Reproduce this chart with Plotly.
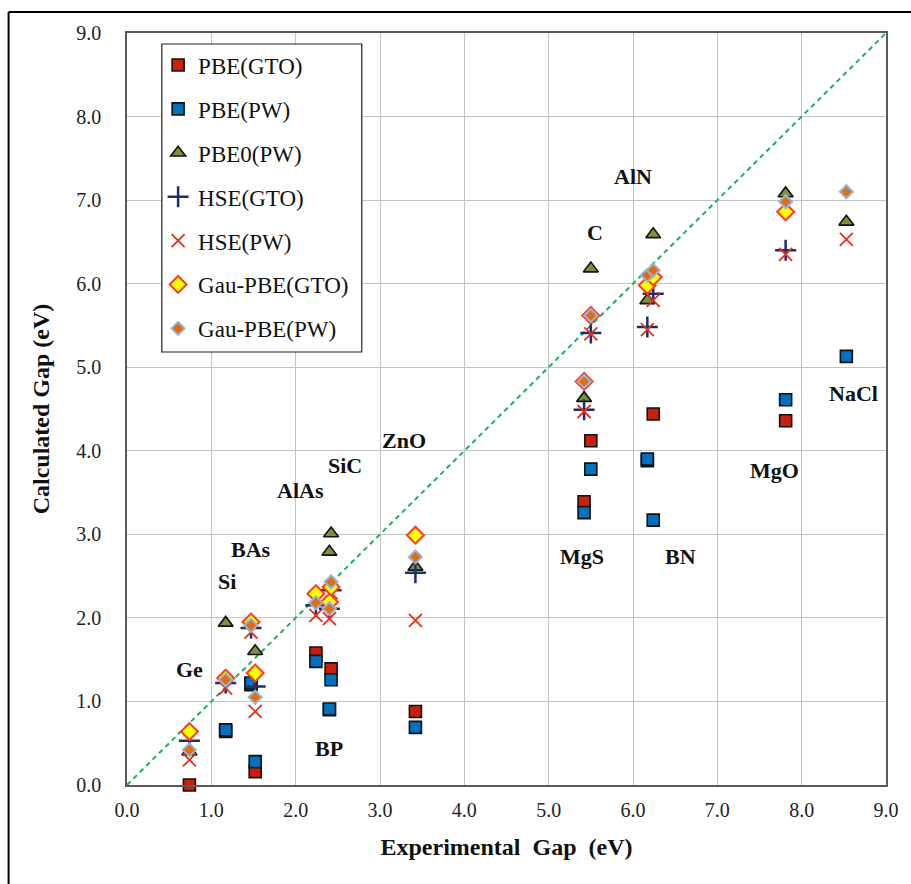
import plotly.graph_objects as go

materials = ["Ge", "Si", "GaAs", "BAs", "AlAs", "SiC", "BP", "ZnO", "MgS", "C", "AlN", "BN", "MgO", "NaCl"]
exp_gap = [0.74, 1.17, 1.52, 1.47, 2.24, 2.42, 2.40, 3.42, 5.42, 5.50, 6.17, 6.24, 7.81, 8.53]

pbe_gto = [0.00, 0.64, 0.16, 1.20, 1.58, 1.39, 0.90, 0.88, 3.39, 4.12, 3.88, 4.44, 4.36, None]
pbe_pw = [None, 0.66, 0.28, 1.22, 1.48, 1.26, 0.91, 0.69, 3.26, 3.78, 3.90, 3.17, 4.61, 5.13]
pbe0_pw = [0.40, 1.94, 1.60, None, None, 3.01, 2.79, 2.61, 4.63, 6.18, 5.80, 6.59, 7.08, 6.74]
hse_gto = [0.53, 1.22, 1.18, 1.88, 2.15, 2.33, 2.11, 2.54, 4.49, 5.41, 5.48, 5.88, 6.40, None]
hse_pw = [0.30, 1.16, 0.88, 1.83, 2.03, 2.30, 1.99, 1.97, 4.47, 5.40, 5.45, 5.80, 6.35, 6.53]
gau_pbe_gto = [0.64, 1.28, 1.34, 1.95, 2.29, 2.37, 2.19, 2.99, 4.83, 5.62, 5.98, 6.08, 6.86, None]
gau_pbe_pw = [0.42, 1.26, 1.05, 1.91, 2.18, 2.43, 2.11, 2.73, 4.83, 5.62, 6.10, 6.16, 6.98, 7.10]

diag = [0.0, 9.0]

label_text = ["Ge", "Si", "BAs", "AlAs", "SiC", "ZnO", "BP", "GaAs", "MgS", "BN", "C", "AlN", "MgO", "NaCl"]
label_x = [0.74, 1.18, 1.47, 2.06, 2.59, 3.28, 2.39, 1.60, 5.39, 6.56, 5.55, 6.00, 7.68, 8.61]
label_y = [1.38, 2.43, 2.82, 3.52, 3.82, 4.12, 0.44, -0.28, 2.73, 2.73, 6.61, 7.28, 3.76, 4.69]

tick_vals = [0, 1, 2, 3, 4, 5, 6, 7, 8, 9]
tick_text = ["0.0", "1.0", "2.0", "3.0", "4.0", "5.0", "6.0", "7.0", "8.0", "9.0"]

SERIF = "Liberation Serif"

fig = go.Figure()

fig.add_trace(go.Scatter(x=diag, y=diag, mode="lines", showlegend=False, hoverinfo="skip",
                         line=dict(color="#1DB061", width=2, dash="5px,4px")))

series = [
    ("PBE(GTO)", pbe_gto, dict(symbol="square", size=12, color="#C8200A", line=dict(color="#111111", width=1.6))),
    ("PBE(PW)", pbe_pw, dict(symbol="square", size=12, color="#0070C0", line=dict(color="#111111", width=1.6))),
    ("PBE0(PW)", pbe0_pw, dict(symbol="triangle-up", size=13, color="#77933C", line=dict(color="#111111", width=1.6))),
    ("HSE(GTO)", hse_gto, dict(symbol="cross-thin", size=15, color="#1F2D6B", line=dict(color="#1F2D6B", width=2.5))),
    ("HSE(PW)", hse_pw, dict(symbol="x-thin", size=13, color="#E0301E", line=dict(color="#E0301E", width=1.8))),
    ("Gau-PBE(GTO)", gau_pbe_gto, dict(symbol="diamond", size=13, color="#FFFF00", line=dict(color="#FF3B1F", width=2))),
    ("Gau-PBE(PW)", gau_pbe_pw, dict(symbol="diamond", size=10, color="#E46C0A", line=dict(color="#95B3D7", width=2))),
]

for i, (name, vals, mk) in enumerate(series):
    fig.add_trace(go.Scatter(x=exp_gap, y=vals, mode="markers", name=name, marker=mk,
                             legendgroup=f"g{i}", cliponaxis=False))

for t, lx, ly in zip(label_text, label_x, label_y):
    fig.add_annotation(x=lx, y=ly, xref="x", yref="y", text=f"<b>{t}</b>", showarrow=False,
                       font=dict(family=SERIF, size=22, color="#111111"))

# legend box
fig.add_shape(type="rect", xref="paper", yref="paper", x0=0.0459, x1=0.3093, y0=0.5758, y1=0.9854,
              line=dict(color="#222222", width=1.2), fillcolor="white", layer="above")
# outer frame (left and top edges visible)
fig.add_shape(type="line", xref="paper", yref="paper", x0=-0.156, x1=-0.156, y0=-0.14, y1=1.028,
              line=dict(color="#000000", width=2))
fig.add_shape(type="line", xref="paper", yref="paper", x0=-0.156, x1=1.06, y0=1.028, y1=1.028,
              line=dict(color="#000000", width=2))

axis_common = dict(range=[0, 9], tickvals=tick_vals, ticktext=tick_text, showgrid=True,
                   gridcolor="#C4C4C4", gridwidth=1, zeroline=False, showline=True,
                   linecolor="#595959", linewidth=1.5, mirror=True, ticks="",
                   tickfont=dict(family=SERIF, size=20, color="#222222"))

fig.update_layout(
    width=911, height=884,
    margin=dict(l=127, r=17, t=33, b=99),
    paper_bgcolor="white", plot_bgcolor="white",
    font=dict(family=SERIF),
    xaxis=dict(**axis_common, ticklabelstandoff=6,
               title=dict(text="<b>Experimental  Gap  (eV)</b>", standoff=18,
                          font=dict(family=SERIF, size=24, color="#111111"))),
    yaxis=dict(**axis_common, ticklabelstandoff=20,
               title=dict(text="<b>Calculated Gap (eV)</b>", standoff=20,
                          font=dict(family=SERIF, size=24, color="#111111"))),
    legend=dict(x=0.041, y=0.986, xanchor="left", yanchor="top", bgcolor="rgba(0,0,0,0)",
                borderwidth=0, font=dict(family=SERIF, size=23, color="#111111"),
                tracegroupgap=11, traceorder="grouped"),
    showlegend=True,
)

fig.write_html("out.html", config={"displayModeBar": False},
               post_script="document.body.style.margin='0px';document.body.style.padding='0px';")
